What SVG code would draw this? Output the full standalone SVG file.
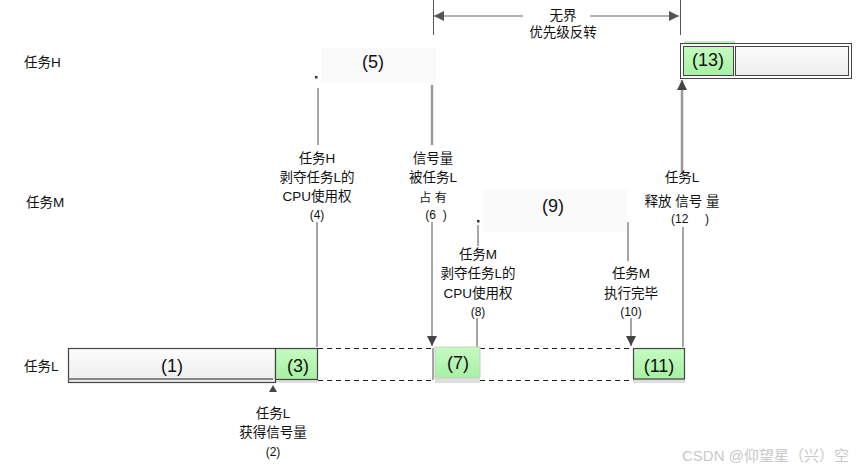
<svg xmlns="http://www.w3.org/2000/svg" width="866" height="471" viewBox="0 0 866 471">
<defs>
<linearGradient id="gGray" x1="0" y1="0" x2="0" y2="1"><stop offset="0" stop-color="#fdfdfd"/><stop offset="1" stop-color="#ececec"/></linearGradient>
<linearGradient id="gGreen" x1="0" y1="0" x2="0" y2="1"><stop offset="0" stop-color="#c4fbc0"/><stop offset="1" stop-color="#a8f0a4"/></linearGradient>
<marker id="ah" viewBox="0 0 10 10" refX="10" refY="5" markerWidth="10" markerHeight="10" markerUnits="userSpaceOnUse" orient="auto"><path d="M0,0 L10,5 L0,10 z" fill="#444"/></marker>
<marker id="ahs" viewBox="0 0 10 10" refX="10" refY="5" markerWidth="12" markerHeight="10" markerUnits="userSpaceOnUse" orient="auto"><path d="M0,0 L10,5 L0,10 z" fill="#555"/></marker>
</defs>
<style>
text{font-family:"Liberation Sans","Noto Sans CJK SC",sans-serif;fill:#111;white-space:pre;}
.lb{font-size:13.5px;text-anchor:middle;}
.sm{font-size:12px;text-anchor:middle;}
.num{font-size:18px;text-anchor:middle;}
.side{font-size:13.5px;}
.ln{stroke:#888;stroke-width:1.5;fill:none;}
.thk{stroke:#999;stroke-width:2.5;fill:none;}
.dash{stroke:#222;stroke-width:1;stroke-dasharray:5,4;fill:none;}
.box{stroke:#444;stroke-width:1.2;}
.strip{fill:#dedede;}
</style>
<rect width="866" height="471" fill="#fff"/>

<g id="labels-side">
<text class="side" x="24" y="67">任务H</text>
<text class="side" x="26" y="207">任务M</text>
<text class="side" x="24" y="371">任务L</text>
</g>

<g id="connectors">
<line x1="433.5" y1="0" x2="433.5" y2="35" stroke="#555" stroke-width="1"/>
<line x1="680.5" y1="0" x2="680.5" y2="35" stroke="#555" stroke-width="1"/>
<line x1="523" y1="16" x2="434" y2="16" stroke="#666" stroke-width="1.2" marker-end="url(#ahs)"/>
<line x1="590" y1="16" x2="679" y2="16" stroke="#666" stroke-width="1.2" marker-end="url(#ahs)"/>
<line class="ln" x1="318" y1="88" x2="318" y2="145"/>
<line class="ln" x1="317" y1="222" x2="317" y2="347"/>
<line class="thk" x1="432" y1="85" x2="432" y2="145"/>
<line class="ln" x1="432" y1="222" x2="432" y2="346" marker-end="url(#ah)"/>
<line class="ln" x1="433" y1="348" x2="433" y2="380"/>
<line class="ln" x1="478" y1="225" x2="478" y2="246"/>
<line class="ln" x1="477" y1="318" x2="477" y2="347"/>
<line class="ln" x1="628" y1="222" x2="628" y2="261"/>
<line class="ln" x1="631" y1="318" x2="631" y2="346" marker-end="url(#ah)"/>
<line class="thk" x1="682" y1="173" x2="682" y2="80" marker-end="url(#ah)"/>
<line class="ln" x1="683" y1="227" x2="683" y2="347"/>
<path d="M273,385 L269,392 L277,392 z" fill="#444"/>
<line class="dash" x1="318" y1="348.5" x2="433" y2="348.5"/>
<line class="dash" x1="318" y1="380.5" x2="433" y2="380.5"/>
<line class="dash" x1="480" y1="348.5" x2="633" y2="348.5"/>
<line class="dash" x1="480" y1="380.5" x2="633" y2="380.5"/>
<rect x="315" y="76" width="2.5" height="2.5" fill="#333"/>
<rect x="477" y="220" width="2.5" height="2.5" fill="#333"/>
</g>

<g id="title">
<text class="lb" x="563" y="20">无界</text>
<text class="lb" x="563" y="37">优先级反转</text>
</g>

<g id="n1">
<rect class="box" x="68.5" y="348.5" width="207" height="34" fill="url(#gGray)"/>
<line x1="68" y1="379" x2="273" y2="379" stroke="#666" stroke-width="1.5"/>
<text class="num" x="172" y="372">(1)</text>
</g>

<g id="n3">
<rect x="276" y="379" width="42" height="4" class="strip"/>
<rect class="box" x="275.5" y="348.5" width="42" height="31" fill="url(#gGreen)"/>
<text class="num" x="298" y="372">(3)</text>
</g>

<g id="n5">
<rect x="321" y="48" width="115" height="35" fill="#fafafa"/>
<text class="num" x="373" y="68">(5)</text>
</g>

<g id="n7">
<rect x="435" y="378" width="45" height="5" class="strip"/>
<rect x="435" y="347" width="45" height="31" fill="url(#gGreen)" stroke="#ccc" stroke-width="1"/>
<text class="num" x="458" y="369">(7)</text>
</g>

<g id="n9">
<rect x="483" y="190" width="144" height="42" fill="#fafafa"/>
<text class="num" x="553" y="212">(9)</text>
</g>

<g id="n11">
<rect x="633" y="379" width="52" height="4" class="strip"/>
<rect class="box" x="633.5" y="348.5" width="51" height="30.5" fill="url(#gGreen)"/>
<text class="num" x="659" y="372">(11)</text>
</g>

<g id="n13">
<rect x="684" y="41" width="51" height="3" fill="#b8f5b4"/>
<rect x="680.5" y="43.5" width="171" height="35" fill="#fff" stroke="#444" stroke-width="1"/>
<rect x="683.5" y="46.5" width="50" height="29" fill="url(#gGreen)" stroke="#444" stroke-width="1"/>
<rect x="735.5" y="46.5" width="113" height="29" fill="url(#gGray)" stroke="#444" stroke-width="1"/>
<text class="num" x="708" y="66">(13)</text>
</g>

<g id="t4">
<text class="lb" x="317" y="163">任务H</text>
<text class="lb" x="317" y="182">剥夺任务L的</text>
<text class="lb" x="317" y="201">CPU使用权</text>
<text class="sm" x="317" y="219">(4)</text>
</g>

<g id="t6">
<text class="lb" x="433" y="163">信号量</text>
<text class="lb" x="433" y="182">被任务L</text>
<text class="sm" x="433" y="202">占 有</text>
<text class="sm" x="436" y="219">(6  )</text>
</g>

<g id="t8">
<text class="lb" x="478" y="259">任务M</text>
<text class="lb" x="478" y="278">剥夺任务L的</text>
<text class="lb" x="478" y="298">CPU使用权</text>
<text class="sm" x="478" y="316">(8)</text>
</g>

<g id="t10">
<text class="lb" x="631" y="278">任务M</text>
<text class="lb" x="631" y="298">执行完毕</text>
<text class="sm" x="631" y="316">(10)</text>
</g>

<g id="t12">
<text class="lb" x="682" y="182">任务L</text>
<text class="lb" x="682" y="206">释放 信号 量</text>
<text class="sm" x="690" y="223">(12     )</text>
</g>

<g id="t2">
<text class="lb" x="273" y="418">任务L</text>
<text class="lb" x="273" y="437">获得信号量</text>
<text class="sm" x="273" y="456">(2)</text>
</g>

<g id="watermark">
<text x="682" y="461" style="font-size:15px;fill:#c8c8c8;">CSDN @仰望星（兴）空</text>
</g>
</svg>
